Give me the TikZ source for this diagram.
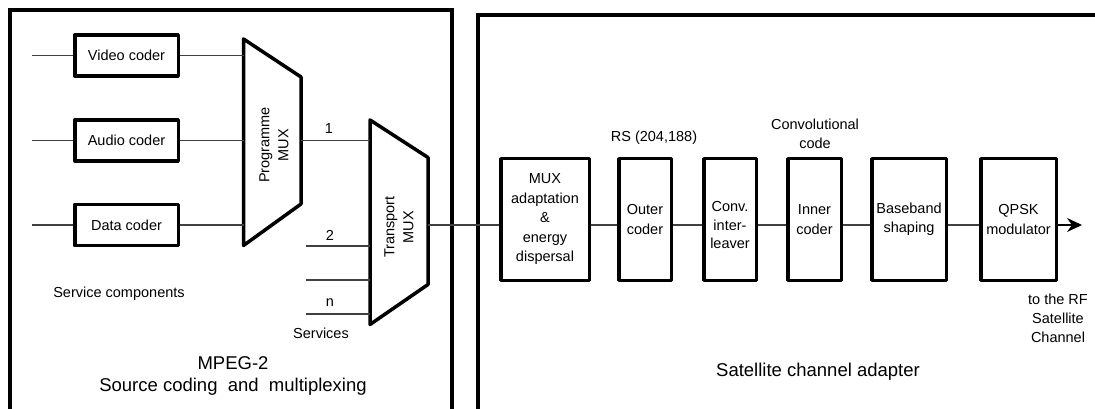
\documentclass[tikz,border=0pt]{standalone}
\usepackage{fontspec}
\setmainfont{Liberation Sans}
\usetikzlibrary{arrows.meta}
\tikzset{
  frame/.style={line width=3.3pt, line cap=rect},
  blk/.style={draw, line width=3.5pt, line join=round, align=center, inner sep=0pt,
    font=\fontsize{14.5}{19.5}\selectfont},
  mux/.style={draw, line width=3.5pt, line join=round},
  wire/.style={draw=black!75, line width=1.1pt},
  lbl/.style={align=center, inner sep=0pt, font=\fontsize{14.5}{19}\selectfont},
  biglbl/.style={align=center, inner sep=0pt, font=\fontsize{18.5}{24}\selectfont},
}
\begin{document}
\begin{tikzpicture}[x=1pt,y=-1pt]
\useasboundingbox (0,0) rectangle (1095,409);
% frames
\draw[frame] (10,412) -- (10,10) -- (452,10) -- (452,412);
\draw[frame] (478,412) -- (478,15) -- (1100,15);
% coders
\node[blk, minimum width=103.5pt, minimum height=41pt] (video) at (126.5,55.5) {Video coder};
\node[blk, minimum width=103.5pt, minimum height=41pt] (audio) at (126.5,140.5) {Audio coder};
\node[blk, minimum width=103.5pt, minimum height=41pt] (data) at (126.5,225) {Data coder};
\coordinate (vin) at (32,55.5);
\coordinate (ain) at (32,140.5);
\coordinate (din) at (32,225);
\draw[wire] (vin) -- (video.west);
\draw[wire] (ain) -- (audio.west);
\draw[wire] (din) -- (data.west);
% Programme MUX
\draw[mux] (243.5,39) -- (301,77) -- (301,204) -- (243.5,245.5) -- cycle;
\coordinate (pmv) at (243.5,55.5);
\coordinate (pma) at (243.5,140.5);
\coordinate (pmd) at (243.5,225);
\coordinate (pmo) at (301,140.5);
\node[lbl, rotate=90] (pmlabel) at (274,145) {Programme\\MUX};
\draw[wire] (video.east) -- (pmv);
\draw[wire] (audio.east) -- (pma);
\draw[wire] (data.east) -- (pmd);
% Transport MUX
\draw[mux] (370,120) -- (428,157.5) -- (428,284.5) -- (370,324.5) -- cycle;
\coordinate (tm1) at (370,140.5);
\coordinate (tm2) at (370,246);
\coordinate (tm3) at (370,280);
\coordinate (tmn) at (370,314);
\coordinate (s2) at (306,246);
\coordinate (s3) at (306,280);
\coordinate (sn) at (306,314);
\coordinate (tmo) at (428,225);
\node[lbl, rotate=90] (tmlabel) at (399,227) {Transport\\MUX};
\draw[wire] (pmo) -- (tm1);
\draw[wire] (s2) -- (tm2);
\draw[wire] (s3) -- (tm3);
\draw[wire] (sn) -- (tmn);
\node[lbl] (l1) at (329,129) {1};
\node[lbl] (l2) at (330,235) {2};
\node[lbl] (ln) at (330,303) {n};
\node[lbl] (serv) at (321,333) {Services};
\node[lbl] (servc) at (119,294) {Service components};
\node[biglbl] (mpeg) at (233,363) {MPEG-2};
\node[biglbl] (src) at (233,387) {Source coding\ \ and\ \ multiplexing};
% Satellite channel adapter
\coordinate (sig) at (0,225);
\node[blk, minimum width=88.5pt, minimum height=121.5pt] (muxad) at (545,219.5) {MUX\\adaptation\\\&\\energy\\dispersal};
\node[blk, minimum width=52.5pt, minimum height=121.5pt] (outer) at (645,219.5) {Outer\\coder};
\node[blk, minimum width=52.5pt, minimum height=121.5pt] (conv) at (730,219.5) {};
\node[lbl, font=\fontsize{14.5}{18.5}\selectfont] (convtext) at (730,225.5) {Conv.\\inter-\\leaver};
\node[blk, minimum width=53.5pt, minimum height=121.5pt] (inner) at (814.5,219.5) {Inner\\coder};
\node[blk, minimum width=74.5pt, minimum height=121.5pt] (base) at (909,219.5) {Baseband\\shaping};
\node[blk, minimum width=75.5pt, minimum height=121.5pt] (qpsk) at (1018.5,219.5) {QPSK\\modulator};
\coordinate (rfout) at (1082,225);
\draw[wire] (tmo) -- (muxad.west |- sig);
\draw[wire] (muxad.east |- sig) -- (outer.west |- sig);
\draw[wire] (outer.east |- sig) -- (conv.west |- sig);
\draw[wire] (conv.east |- sig) -- (inner.west |- sig);
\draw[wire] (inner.east |- sig) -- (base.west |- sig);
\draw[wire] (base.east |- sig) -- (qpsk.west |- sig);
\draw[wire, -{Stealth[length=15pt,width=14pt,inset=5pt]}, draw=black] (qpsk.east |- sig) -- (rfout);
\node[lbl] (rs) at (654,138) {RS (204,188)};
\node[lbl] (cc) at (815,134) {Convolutional\\code};
\node[lbl] (rf) at (1058,318) {to the RF\\Satellite\\Channel};
\node[biglbl] (sca) at (818,372) {Satellite channel adapter};
\end{tikzpicture}
\end{document}
